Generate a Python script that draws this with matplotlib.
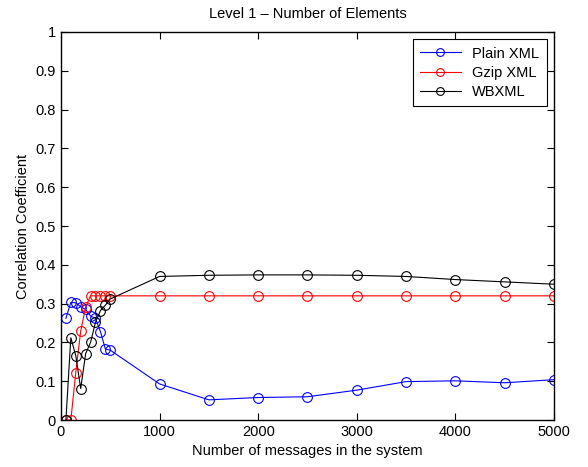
import matplotlib
matplotlib.use("Agg")
import matplotlib.pyplot as plt
import numpy as np

plt.rcParams['font.family'] = ['Liberation Sans', 'DejaVu Sans']

# message counts (x axis)
messages = [50, 100, 150, 200, 250, 300, 350, 400, 450, 500,
            1000, 1500, 2000, 2500, 3000, 3500, 4000, 4500, 5000]

plain_xml = [0.262, 0.303, 0.302, 0.292, 0.285, 0.268, 0.262, 0.228, 0.183, 0.180,
             0.093, 0.052, 0.058, 0.060, 0.077, 0.099, 0.101, 0.096, 0.104]
gzip_xml = [0.0, 0.0, 0.122, 0.229, 0.291, 0.320, 0.320, 0.320, 0.320, 0.320,
            0.320, 0.320, 0.320, 0.320, 0.320, 0.320, 0.320, 0.320, 0.320]
wbxml = [0.0, 0.212, 0.166, 0.081, 0.171, 0.200, 0.252, 0.282, 0.296, 0.312,
         0.370, 0.373, 0.374, 0.374, 0.373, 0.370, 0.362, 0.356, 0.350]

fig = plt.figure(figsize=(5.88, 4.67), dpi=100)
ax = fig.add_axes([0.1037, 0.1006, 0.8385, 0.8309])

ax.plot(messages, plain_xml, '-o', color='blue', mfc='none', ms=7, lw=0.8, mew=0.8, label='Plain XML')
ax.plot(messages, gzip_xml, '-o', color='red', mfc='none', ms=7, lw=0.8, mew=0.8, label='Gzip XML')
ax.plot(messages, wbxml, '-o', color='black', mfc='none', ms=7, lw=0.8, mew=0.8, label='WBXML')

ax.set_xlim(0, 5000)
ax.set_ylim(0, 1)
ax.set_xticks(np.arange(0, 5001, 1000))
ax.set_yticks(np.arange(0, 1.01, 0.1))
ax.set_yticklabels(['0', '0.1', '0.2', '0.3', '0.4', '0.5', '0.6', '0.7', '0.8', '0.9', '1'])
ax.tick_params(direction='in', top=True, right=True, labelsize=10.5, length=5)
for s in ax.spines.values():
    s.set_linewidth(1.0)

ax.set_title('Level 1 \u2013 Number of Elements', fontsize=10.5, pad=10)
ax.set_xlabel('Number of messages in the system', fontsize=10.5, labelpad=4)
ax.set_ylabel('Correlation Coefficient', fontsize=10.5)

leg = ax.legend(loc='upper right', fontsize=10.5, fancybox=False, edgecolor='black',
                framealpha=1, borderaxespad=0.5, handlelength=2.8, markerscale=0.8,
                labelspacing=0.35, borderpad=0.5)
leg.get_frame().set_linewidth(0.8)

fig.savefig('out.png', dpi=100)
